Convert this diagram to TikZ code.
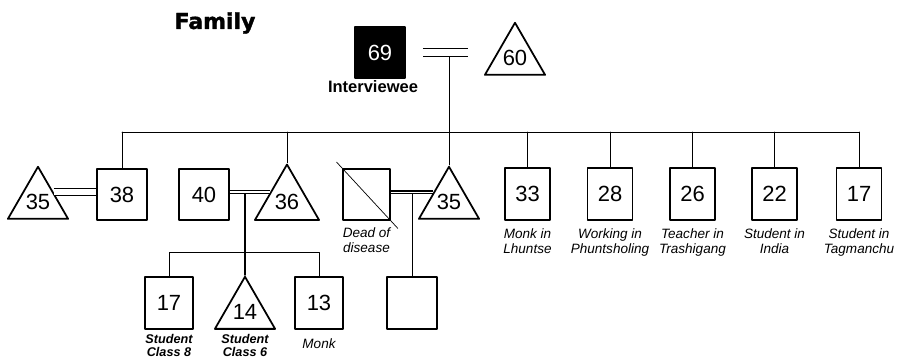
\documentclass[tikz,border=0pt]{standalone}
\usepackage{fontspec}
\setmainfont{Liberation Sans}
\newfontfamily\headfont{DejaVu Sans}[BoldFeatures={FakeBold=1.6}]
\usetikzlibrary{shapes.geometric,positioning}

\begin{document}
\begin{tikzpicture}[line cap=round,line join=round,every node/.style={inner sep=1pt},
  sq/.style={draw,line width=1.1pt,minimum width=1.0cm,minimum height=1.02cm,inner sep=0pt,font=\fontsize{12.5}{14}\selectfont},
  kid/.style={sq,minimum width=0.9cm,minimum height=1.04cm},
  tri/.style={draw,line width=1pt,regular polygon,regular polygon sides=3,minimum size=1.39cm,inner sep=0pt,font=\fontsize{12.5}{14}\selectfont},
  wed/.style={double,line cap=butt},
  lbl/.style={align=center,font=\fontsize{7.7}{8.6}\selectfont\itshape},
  blbl/.style={align=center,font=\fontsize{7.2}{7.8}\selectfont\bfseries\itshape}]
  \useasboundingbox (0,0) rectangle (18.06,7.16);
  \node[font=\headfont\bfseries\fontsize{12.5}{14}\selectfont] (title) at (4.30,6.70) {Family};
  % interviewee and wife
  \node[sq,fill=black,text=white] (b69) at (7.60,6.11) {69};
  \node[font=\bfseries\fontsize{9.4}{11}\selectfont] (iv) at (7.46,5.43) {Interviewee};
  \node[tri] (t60) at (10.30,6.01) {60};
  % children, with husbands and wives
  \node[tri] (t35a) at (0.76,3.13) {35};
  \node[sq] (b38) at (2.44,3.27) {38};
  \node[sq] (b40) at (4.08,3.27) {40};
  \node[tri,minimum size=1.48cm] (t36) at (5.74,3.13) {36};
  \node[sq,minimum width=0.94cm] (dead) at (7.33,3.27) {};
  \node[tri] (t35b) at (8.98,3.13) {35};
  \node[kid] (b33) at (10.55,3.28) {33};
  \node[kid] (b28) at (12.20,3.28) {28};
  \node[kid] (b26) at (13.85,3.28) {26};
  \node[kid] (b22) at (15.49,3.28) {22};
  \node[kid] (b17a) at (17.18,3.28) {17};
  % grandchildren
  \node[kid,minimum width=0.96cm] (b17b) at (3.38,1.10) {17};
  \node[tri] (t14) at (4.90,0.93) {14};
  \node[kid,minimum width=0.96cm] (b13) at (6.38,1.10) {13};
  \node[kid,minimum width=1.0cm] (bx) at (8.24,1.10) {};

  \foreach \n/\t in {b33/{Monk in\\Lhuntse},b28/{Working in\\Phuntsholing},b26/{Teacher in\\Trashigang},b22/{Student in\\India},b17a/{Student in\\Tagmanchu}}{
    \node[lbl,below=0.12cm of \n] (\n-l) {\t};
  }
  \node[lbl,below=0.10cm of dead] (dead-l) {Dead of\\disease};
  \node[blbl,below=0.04cm of b17b] (b17b-l) {Student\\Class 8};
  \node[blbl,below=0.04cm of t14] (t14-l) {Student\\Class 6};
  \node[lbl,below=0.14cm of b13] (b13-l) {Monk};

  % lines of descent
  \coordinate (sibs) at (0,4.52);
  \coordinate (kids) at (0,2.12);
  \draw[line width=0.5pt] (t35b.north) -- (t35b.north |- b69.east);
  \draw[line width=0.5pt] (b38.north |- sibs) -- (b17a.north |- sibs);
  \foreach \n in {b38,t36,b33,b28,b26,b22,b17a}{
    \draw[line width=0.5pt] (\n.north) -- (\n.north |- sibs);
  }
  \draw[line width=0.9pt] (t14.north) -- (t14.north |- t36.side 1);
  \draw[line width=0.5pt] (b17b.north) -- (b17b.north |- kids) -- (b13.north |- kids) -- (b13.north);
  \draw[line width=0.5pt] (bx.north) -- (bx.north |- t35b.side 1);
  % marriages
  \draw[line width=0.7pt,wed,double distance=3.9pt,shorten <=0.34cm,shorten >=0.3cm] (b69.east) -- (b69.east -| t60.corner 2);
  \draw[line width=0.6pt,wed,double distance=3.4pt] (t35a.side 3) -- (b38.west |- t35a.side 3);
  \draw[line width=0.7pt,wed,double distance=0.9pt] (b40.east |- t36.side 1) -- (t36.side 1);
  \draw[line width=0.7pt,wed,double distance=0.9pt] (dead.east |- t35b.side 1) -- (t35b.side 1);
  \draw[line width=0.4pt,shorten <=-0.16cm,shorten >=-0.2cm] (dead.north west) -- (dead.south east);
\end{tikzpicture}
\end{document}
